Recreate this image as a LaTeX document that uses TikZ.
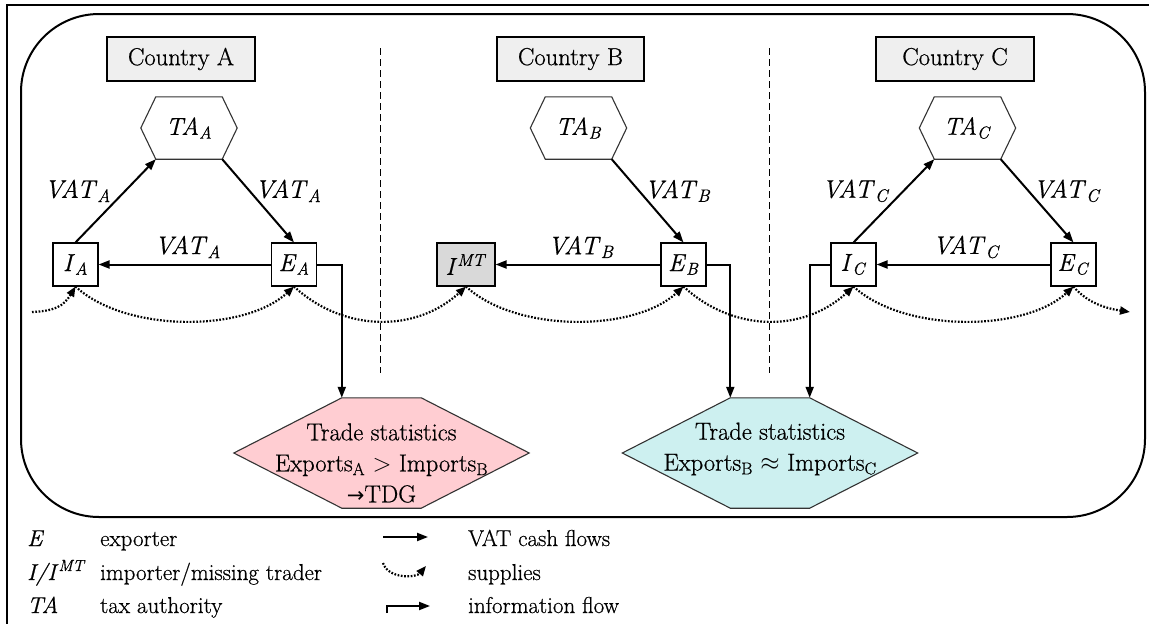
\documentclass[tikz,border=0pt]{standalone}
\usepackage{fontspec}
\setmainfont{Latin Modern Roman}[FakeBold=0.6]
\newfontfamily\symfont{DejaVu Sans}
\usetikzlibrary{arrows.meta}
\newcommand\myit[2]{\textit{#1}\textsubscript{\textit{#2}}}
\definecolor{pinkfill}{RGB}{255,205,210}
\definecolor{cyanfill}{RGB}{205,240,240}
\definecolor{cboxfill}{RGB}{239,239,239}
\definecolor{mtfill}{RGB}{217,217,217}
\begin{document}
\begin{tikzpicture}[x=1pt,y=-1pt,
  every node/.style={inner sep=0pt, font=\rmfamily\fontsize{24.6}{29}\selectfont},
  country/.style={draw, line width=1.1pt, fill=cboxfill, minimum height=44pt},
  agent/.style={draw, line width=1.1pt, fill=white, minimum width=45pt, minimum height=43pt},
  tahex/.style={minimum width=66pt, minimum height=62pt},
  tshex/.style={minimum width=79pt, minimum height=110pt},
  hexline/.style={draw=black!80, line width=1.1pt},
  vat/.style={line width=2pt, -{Triangle[length=11pt,width=8pt]}},
  info/.style={line width=2pt, -{Triangle[length=11pt,width=8pt]}},
  supply/.style={line width=2.2pt, dash pattern=on 1.7pt off 1.6pt, -{Triangle[length=10pt,width=8pt]}},
  lbl/.style={midway, font=\rmfamily\fontsize{25.5}{30}\selectfont},
  lblL/.style={lbl, xshift=-38pt, yshift=10pt},
  lblR/.style={lbl, xshift=30pt, yshift=10pt},
  lblH/.style={lbl, xshift=3pt, yshift=17.5pt},
  border/.style={dash pattern=on 7pt off 4pt, line width=1pt},
  tstext/.style={align=center, font=\rmfamily\fontsize{24.5}{31}\selectfont},
  legtxt/.style={anchor=base west, font=\rmfamily\fontsize{23}{26}\selectfont}
]
\useasboundingbox (0,0) rectangle (1149,624);
% frames
\draw[line width=1.5pt] (7,624) -- (7,5) -- (1149,5);
\draw[line width=2pt, rounded corners=78pt] (21,14) rectangle (1145,517);
% country dividers
\draw[border] (380,48) -- (380,373);
\draw[border] (769,48) -- (769,373);
% country headers
\node[country, minimum width=148pt] (CA) at (181,59) {Country A};
\node[country, minimum width=147pt] (CB) at (570.5,59) {Country B};
\node[country, minimum width=158pt] (CC) at (955,59) {Country C};
% tax authorities
\node[tahex] (TAA) at (189,128) {\myit{TA}{A}};
\node[tahex] (TAB) at (578.5,128) {\myit{TA}{B}};
\node[tahex] (TAC) at (967.5,128) {\myit{TA}{C}};
\foreach \t in {TAA,TAB,TAC}{
  \draw[hexline] ([xshift=-15pt]\t.west) -- (\t.north west) -- (\t.north east)
    -- ([xshift=15pt]\t.east) -- (\t.south east) -- (\t.south west) -- cycle;
}
% traders
\node[agent] (IA) at (75.5,264.5) {\myit{I}{A}};
\node[agent] (EA) at (294,264.5) {\myit{E}{A}};
\node[agent, fill=mtfill, minimum width=58pt] (IMT) at (466,264.5) {\textit{I}\textsuperscript{\textit{MT}}};
\node[agent] (EB) at (683.5,264.5) {\myit{E}{B}};
\node[agent] (IC) at (853.5,264.5) {\myit{I}{C}};
\node[agent] (EC) at (1073.5,264.5) {\myit{E}{C}};
% VAT flows
\draw[vat] (IA.north) -- node[lblL] {\myit{VAT}{A}} (TAA.south west);
\draw[vat] (TAA.south east) -- node[lblR] {\myit{VAT}{A}} (EA.north);
\draw[vat] (EA.west) -- node[lblH] {\myit{VAT}{A}} (IA.east);
\draw[vat] (TAB.south east) -- node[lblR] {\myit{VAT}{B}} (EB.north);
\draw[vat] (EB.west) -- node[lblH] {\myit{VAT}{B}} (IMT.east);
\draw[vat] (IC.north) -- node[lblL] {\myit{VAT}{C}} (TAC.south west);
\draw[vat] (TAC.south east) -- node[lblR] {\myit{VAT}{C}} (EC.north);
\draw[vat] (EC.west) -- node[lblH] {\myit{VAT}{C}} (IC.east);
% trade statistics
\node[tshex] (TSA) at (381.5,453) {};
\draw[hexline, fill=pinkfill] (TSA.north west) -- (TSA.north east) -- ([xshift=108pt]TSA.east)
  -- (TSA.south east) -- (TSA.south west) -- ([xshift=-108pt]TSA.west) -- cycle;
\node[tstext] (TSAt) at (381.5,463) {Trade statistics\\Exports\textsubscript{A} $>$ Imports\textsubscript{B}\\{\symfont\fontsize{21}{24}\selectfont →}TDG};
\node[tshex] (TSB) at (770,453) {};
\draw[hexline, fill=cyanfill] (TSB.north west) -- (TSB.north east) -- ([xshift=108pt]TSB.east)
  -- (TSB.south east) -- (TSB.south west) -- ([xshift=-108pt]TSB.west) -- cycle;
\node[tstext] (TSBt) at (770,449) {Trade statistics\\Exports\textsubscript{B} $\approx$ Imports\textsubscript{C}};
% information flows
\draw[info] (EA.east) -| (TSA.north west);
\draw[info] (EB.east) -| (TSB.north west);
\draw[info] (IC.west) -| (TSB.north east);
% supplies
\coordinate (s0) at (32,312);
\coordinate (s7) at (1130,312);
\draw[supply] (s0) .. controls +(22,-1) and +(-12,20) .. (IA.south);
\draw[supply] (IA.south) .. controls +(50,46) and +(-50,46) .. (EA.south);
\draw[supply] (EA.south) .. controls +(50,46) and +(-50,46) .. (IMT.south);
\draw[supply] (IMT.south) .. controls +(50,46) and +(-50,46) .. (EB.south);
\draw[supply] (EB.south) .. controls +(50,46) and +(-50,46) .. (IC.south);
\draw[supply] (IC.south) .. controls +(50,46) and +(-50,46) .. (EC.south);
\draw[supply] (EC.south) .. controls +(15,18) and +(-20,-3) .. (s7);
% legend
\node[legtxt] (kE) at (27,546) {\textit{E}};
\node[legtxt] (kEt) at (100,546) {exporter};
\node[legtxt] (kI) at (27,580) {\textit{I/I}\textsuperscript{\textit{MT}}};
\node[legtxt] (kIt) at (100,580) {importer/missing trader};
\node[legtxt] (kT) at (27,613) {\textit{TA}};
\node[legtxt] (kTt) at (100,613) {tax authority};
\coordinate (v1) at (383,537);
\coordinate (v2) at (428,537);
\draw[vat] (v1) -- (v2);
\node[legtxt] (kV) at (468,546) {VAT cash flows};
\coordinate (p1) at (383,563);
\coordinate (p2) at (426,566);
\draw[supply] (p1) .. controls +(5,16) and +(-10,12) .. (p2);
\node[legtxt] (kS) at (468,580) {supplies};
\coordinate (f1) at (387,613);
\coordinate (f2) at (430,606);
\draw[info] (f1) |- (f2);
\node[legtxt] (kF) at (468,613) {information flow};
\end{tikzpicture}
\end{document}
